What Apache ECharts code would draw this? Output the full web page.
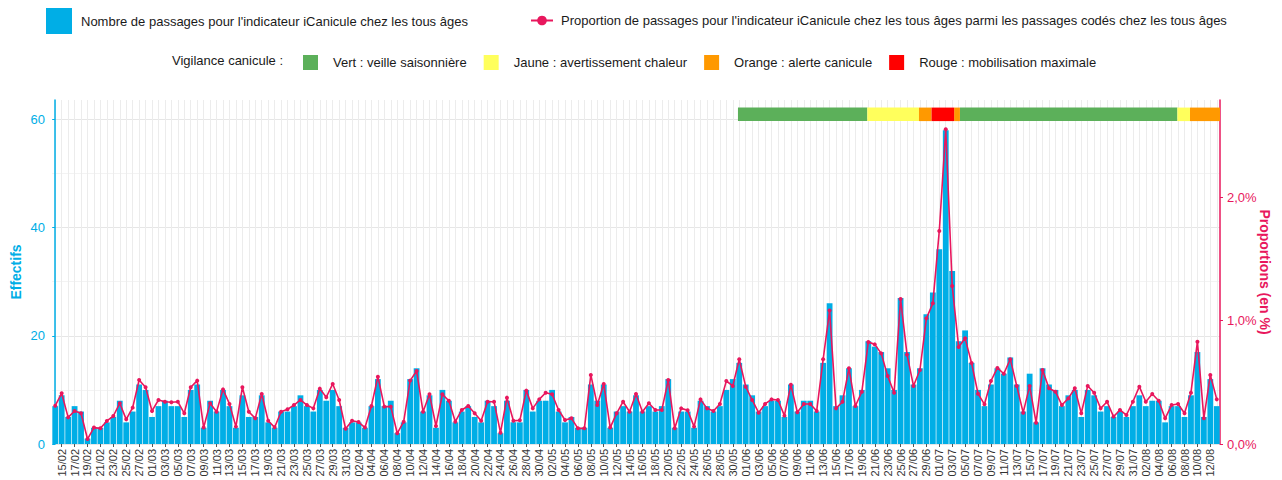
<!DOCTYPE html>
<html>
<head>
<meta charset="utf-8">
<title>iCanicule</title>
<script src="https://cdn.jsdelivr.net/npm/echarts@6/dist/echarts.min.js"></script>
<style>
  html, body { margin: 0; padding: 0; background: #fff; }
  #chart { width: 1282px; height: 480px; }
</style>
</head>
<body>
<div id="chart"></div>
<script>
// daily data, from 14/02 (one value per day)
var START_DAY = [2025, 1, 14];
var counts = [
  7, 9, 5, 7, 6, 1, 3, 3, 4, 5, 8, 4, 6, 11, 10, 5, 7, 8, 7, 7,
  5, 10, 11, 3, 8, 6, 10, 7, 3, 9, 5, 5, 9, 4, 3, 6, 6, 7, 9, 7,
  6, 10, 8, 10, 7, 3, 4, 4, 3, 7, 12, 7, 8, 2, 4, 12, 14, 6, 9, 3,
  10, 8, 4, 6, 7, 5, 4, 8, 7, 2, 8, 4, 4, 10, 6, 8, 8, 10, 6, 4,
  5, 3, 3, 11, 8, 11, 3, 6, 7, 6, 9, 6, 7, 6, 7, 12, 3, 6, 6, 3,
  8, 7, 6, 7, 10, 12, 15, 11, 9, 6, 7, 8, 8, 5, 11, 6, 8, 8, 6, 15,
  26, 7, 9, 14, 7, 10, 19, 18, 17, 14, 10, 27, 17, 11, 14, 24, 28, 36, 58, 32,
  19, 21, 15, 10, 7, 11, 14, 13, 16, 11, 6, 13, 4, 14, 11, 10, 7, 9, 10, 5,
  10, 9, 6, 7, 5, 6, 5, 7, 9, 7, 8, 8, 4, 7, 7, 5, 9, 17, 5, 12,
  7
];
// proportion (en %)
var proportions = [
  0.311, 0.411, 0.216, 0.268, 0.249, 0.040, 0.133, 0.127, 0.187, 0.227,
  0.330, 0.200, 0.295, 0.519, 0.460, 0.268, 0.357, 0.343, 0.338, 0.343,
  0.249, 0.460, 0.514, 0.133, 0.330, 0.262, 0.443, 0.325, 0.141, 0.460,
  0.262, 0.208, 0.406, 0.189, 0.135, 0.262, 0.281, 0.316, 0.357, 0.316,
  0.289, 0.449, 0.379, 0.487, 0.357, 0.124, 0.189, 0.178, 0.133, 0.308,
  0.546, 0.303, 0.303, 0.087, 0.181, 0.514, 0.592, 0.262, 0.403, 0.146,
  0.403, 0.351, 0.181, 0.276, 0.308, 0.249, 0.189, 0.343, 0.343, 0.092,
  0.376, 0.189, 0.192, 0.433, 0.289, 0.362, 0.416, 0.403, 0.276, 0.195,
  0.208, 0.127, 0.127, 0.560, 0.316, 0.487, 0.133, 0.249, 0.343, 0.262,
  0.406, 0.262, 0.330, 0.276, 0.276, 0.519, 0.127, 0.289, 0.273, 0.141,
  0.362, 0.289, 0.268, 0.325, 0.511, 0.471, 0.687, 0.465, 0.357, 0.254,
  0.325, 0.362, 0.357, 0.230, 0.481, 0.257, 0.325, 0.325, 0.268, 0.687,
  1.082, 0.289, 0.343, 0.614, 0.308, 0.424, 0.827, 0.808, 0.735, 0.552,
  0.416, 1.176, 0.725, 0.471, 0.600, 1.019, 1.141, 1.728, 2.553, 1.282,
  0.787, 0.857, 0.657, 0.408, 0.322, 0.511, 0.617, 0.570, 0.688, 0.471,
  0.254, 0.471, 0.173, 0.600, 0.452, 0.424, 0.316, 0.370, 0.452, 0.249,
  0.471, 0.416, 0.289, 0.343, 0.222, 0.276, 0.235, 0.343, 0.465, 0.343,
  0.406, 0.351, 0.208, 0.316, 0.325, 0.249, 0.416, 0.830, 0.208, 0.560,
  0.362
];
// vigilance periods (day index on the x scale)
var vigStart = [105.8, 125.85, 133.85, 135.8, 139.3, 140.2, 173.9, 175.85];
var vigEnd   = [125.85, 133.85, 135.8, 139.3, 140.2, 173.9, 175.85, 180.5];
var vigLevel = [0, 1, 2, 3, 2, 0, 1, 2];
var vigNames = ['Vert : veille saisonnière', 'Jaune : avertissement chaleur',
                'Orange : alerte canicule', 'Rouge : mobilisation maximale'];
var vigColors = ['#5CB05A', '#FFFF5C', '#FF9900', '#FF0000'];

var leftTicks = [0, 20, 40, 60];
var rightTicks = [0, 1, 2];

var NAME_BAR = "Nombre de passages pour l'indicateur iCanicule chez les tous âges";
var NAME_LINE = "Proportion de passages pour l'indicateur iCanicule chez les tous âges parmi les passages codés chez les tous âges";

var BLUE = '#00AEE6';
var PINK = '#E8175D';
var FONT = "'Liberation Sans', Arial, sans-serif";
var Y_MAX = 63.6;
var P_MAX = 2.79;
var BAND_LOW = 59.7, BAND_HIGH = 62.2;

function pad(n) { return (n < 10 ? '0' : '') + n; }
var days = counts.map(function (_, i) {
  var d = new Date(START_DAY[0], START_DAY[1], START_DAY[2] + i);
  return pad(d.getDate()) + '/' + pad(d.getMonth() + 1);
});

function renderBand(params, api) {
  var p0 = api.coord([api.value(0), BAND_HIGH]);
  var p1 = api.coord([api.value(1), BAND_LOW]);
  return {
    type: 'rect',
    shape: { x: p0[0], y: p0[1], width: p1[0] - p0[0], height: p1[1] - p0[1] },
    style: { fill: api.visual('color') }
  };
}

var bandSeries = vigNames.map(function (name, lvl) {
  var data = [];
  for (var k = 0; k < vigStart.length; k++) {
    if (vigLevel[k] === lvl) data.push([vigStart[k], vigEnd[k]]);
  }
  return {
    name: name,
    type: 'custom',
    xAxisIndex: 1,
    yAxisIndex: 0,
    renderItem: renderBand,
    encode: { x: [0, 1] },
    itemStyle: { color: vigColors[lvl] },
    data: data,
    z: 3,
    silent: true
  };
});

var chart = echarts.init(document.getElementById('chart'), null, { renderer: 'svg' });

chart.setOption({
  animation: false,
  textStyle: { fontFamily: FONT },
  title: {
    text: 'Vigilance canicule :',
    left: 172, top: 54,
    padding: 0,
    textStyle: { fontSize: 13, fontWeight: 'normal', color: '#1a1a1a', fontFamily: FONT }
  },
  legend: [
    {
      data: [NAME_BAR],
      left: 46, top: 8, padding: 0,
      icon: 'rect', itemWidth: 26, itemHeight: 26,
      selectedMode: false,
      textStyle: { fontSize: 13, color: '#1a1a1a', fontFamily: FONT, padding: [0, 0, 0, 4] }
    },
    {
      data: [NAME_LINE],
      left: 530, top: 14, padding: 0,
      itemWidth: 22, itemHeight: 12,
      selectedMode: false,
      textStyle: { fontSize: 13, color: '#1a1a1a', fontFamily: FONT, padding: [0, 0, 0, 3] }
    },
    {
      data: vigNames,
      left: 303, top: 55, padding: 0,
      icon: 'rect', itemWidth: 15, itemHeight: 15, itemGap: 17,
      selectedMode: false,
      textStyle: { fontSize: 13, color: '#1a1a1a', fontFamily: FONT, padding: [0, 0, 0, 10] }
    }
  ],
  grid: { left: 52, right: 62, top: 100, bottom: 36, containLabel: false, outerBoundsMode: 'none' },
  xAxis: [
    {
      type: 'category',
      data: days,
      boundaryGap: true,
      axisLine: { show: false },
      axisTick: {
        show: true, length: 3, alignWithLabel: true,
        interval: function (i) { return i % 2 === 1; },
        lineStyle: { color: '#555' }
      },
      axisLabel: {
        rotate: 90, fontSize: 11, color: '#333', margin: 5, fontFamily: FONT,
        interval: function (i) { return i % 2 === 1; }
      },
      splitLine: {
        show: true, interval: 0, alignWithLabel: true,
        lineStyle: { color: '#ececec', width: 1 }
      }
    },
    {
      type: 'value',
      show: false,
      min: -0.5,
      max: days.length - 0.5
    }
  ],
  yAxis: [
    {
      type: 'value',
      position: 'left',
      min: 0, max: Y_MAX, interval: 20,
      name: 'Effectifs',
      nameLocation: 'middle', nameRotate: 90, nameGap: 29, nameMoveOverlap: false,
      nameTextStyle: { color: BLUE, fontSize: 14, fontWeight: 'bold', fontFamily: FONT },
      axisLine: { show: true, lineStyle: { color: BLUE, width: 1.5 } },
      axisTick: { show: true, length: 3, lineStyle: { color: BLUE } },
      axisLabel: {
        color: BLUE, fontSize: 13, margin: 7, showMaxLabel: false,
        formatter: function (v) { return leftTicks.indexOf(v) >= 0 ? String(v) : ''; }
      },
      splitLine: { show: true, showMaxLine: false, lineStyle: { color: '#e6e6e6', width: 1 } }
    },
    {
      type: 'value',
      position: 'right',
      min: 0, max: P_MAX, interval: 1,
      name: 'Proportions (en %)',
      nameLocation: 'middle', nameRotate: -90, nameGap: 38, nameMoveOverlap: false,
      nameTextStyle: { color: PINK, fontSize: 14, fontWeight: 'bold', fontFamily: FONT },
      axisLine: { show: true, lineStyle: { color: PINK, width: 1.5 } },
      axisTick: { show: true, length: 3, lineStyle: { color: PINK } },
      axisLabel: {
        color: PINK, fontSize: 13, margin: 7, showMaxLabel: false,
        formatter: function (v) {
          return rightTicks.indexOf(v) >= 0 ? v.toFixed(1).replace('.', ',') + '%' : '';
        }
      },
      splitLine: { show: false }
    },
    {
      // minor horizontal grid (10, 30, 50)
      type: 'value',
      position: 'left',
      min: 0, max: Y_MAX, interval: 10,
      axisLine: { show: false },
      axisTick: { show: false },
      axisLabel: { show: false },
      splitLine: {
        show: true, showMaxLine: false,
        lineStyle: { color: ['rgba(0,0,0,0)', '#f3f3f3'], width: 1 }
      }
    }
  ],
  series: [
    {
      name: NAME_BAR,
      type: 'bar',
      xAxisIndex: 0,
      yAxisIndex: 0,
      data: counts,
      barCategoryGap: '10%',
      itemStyle: { color: BLUE },
      z: 2
    },
    {
      name: NAME_LINE,
      type: 'line',
      xAxisIndex: 0,
      yAxisIndex: 1,
      data: proportions,
      symbol: 'circle',
      symbolSize: 4,
      showAllSymbol: true,
      lineStyle: { color: PINK, width: 1.6 },
      itemStyle: { color: PINK },
      z: 4
    }
  ].concat(bandSeries)
});
</script>
</body>
</html>
